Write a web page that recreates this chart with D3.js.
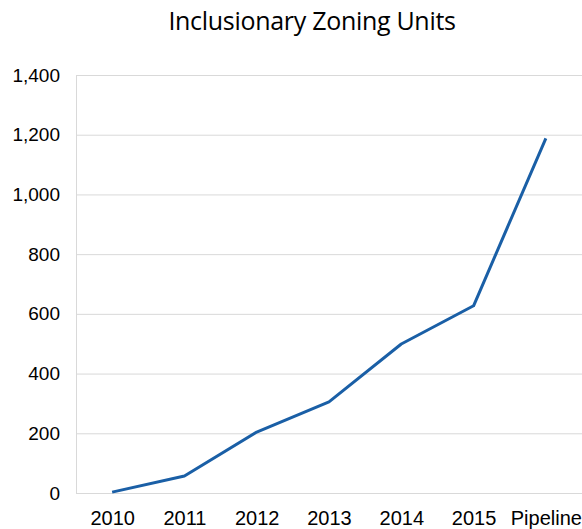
<!DOCTYPE html>
<html>
<head>
<meta charset="utf-8">
<script src="https://cdn.jsdelivr.net/npm/d3@7"></script>
<style>
  body { margin: 0; background: #fff; }
  text { font-family: "Liberation Sans", Arial, sans-serif; fill: #000; }
</style>
</head>
<body>
<svg id="chart" width="582" height="529"></svg>
<script>
var categories = ["2010", "2011", "2012", "2013", "2014", "2015", "Pipeline"];
var units = [3, 57, 204, 305, 499, 627, 1188];
var yTicks = [0, 200, 400, 600, 800, 1000, 1200, 1400];

(function () {
  var margin = { top: 75, left: 76, right: 0, bottom: 36 },
    width = 582 - margin.left - margin.right,
    height = 493 - margin.top;

  var svg = d3.select("#chart");

  svg.append("text")
    .attr("x", 312)
    .attr("y", 30)
    .attr("text-anchor", "middle")
    .style("font-family", "'Open Sans', sans-serif")
    .style("font-size", "25px")
    .style("letter-spacing", "-0.3px")
    .text("Inclusionary Zoning Units");

  var chart = svg.append("g").attr("transform", `translate(${margin.left}, ${margin.top})`);

  var x = d3.scalePoint().domain(categories).range([0, width]).padding(0.5);
  var y = d3.scaleLinear().domain([0, 1400]).range([height, 0]);

  // gridlines
  chart.append("g")
    .call(d3.axisLeft(y).tickValues(yTicks).tickSize(-width).tickFormat(""))
    .call((g) => g.select(".domain").remove())
    .call((g) => g.selectAll("line").attr("stroke", "#d9d9d9"));

  // y labels
  chart.append("g")
    .call(d3.axisLeft(y).tickValues(yTicks).tickSize(0).tickPadding(16).tickFormat(d3.format(",")))
    .call((g) => g.select(".domain").remove())
    .call((g) => g.selectAll("text").style("font-size", "19px"));

  // left axis line
  chart.append("line")
    .attr("x1", 0.5).attr("x2", 0.5)
    .attr("y1", 0).attr("y2", height)
    .attr("stroke", "#d9d9d9");

  // x labels
  chart.append("g")
    .attr("transform", "translate(0," + height + ")")
    .call(d3.axisBottom(x).tickSize(0).tickPadding(18))
    .call((g) => g.select(".domain").remove())
    .call((g) => g.selectAll("text").style("font-size", "20px"));

  var line = d3.line()
    .x((d, i) => x(categories[i]))
    .y((d) => y(d));

  chart.append("path")
    .datum(units)
    .attr("fill", "none")
    .attr("stroke", "#1a5fa6")
    .attr("stroke-width", 3)
    .attr("stroke-linejoin", "round")
    .attr("d", line);
})();
</script>
</body>
</html>
